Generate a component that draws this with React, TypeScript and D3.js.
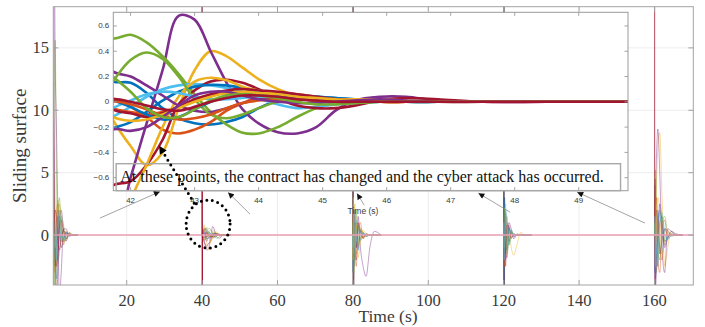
import React from "react";
import * as d3 from "d3";

const W = 705;
const H = 327;

// ---------- axes extents (data domains) ----------
const xDomain = [0.53, 170.3];
const yDomain = [-4.0, 18.3];
const xTicks = [20, 40, 60, 80, 100, 120, 140, 160];
const yTicks = [0, 5, 10, 15];

const insetXDomain = [41.73, 49.77];
const insetYDomain = [-0.703, 0.708];
const insetXTicks = [42, 43, 44, 45, 46, 47, 48, 49];
const insetYTicks = [-0.6, -0.4, -0.2, 0, 0.2, 0.4, 0.6];

const palette = ["#0072BD", "#D95319", "#EDB120", "#7E2F8E", "#77AC30", "#4DBEEE", "#A2142F"];

// ---------- event at t = 0.5 (start) ----------
const event0Start = 0.53;
const event0Offsets = [0, 0.1, 0.25, 0.5, 0.8, 1.2, 1.6, 2.1, 2.7, 3.4, 4.2, 5.2, 6.5];
const event0Colors = [0, 1, 2, 3, 4, 5, 6, 0, 1, 2, 3, 4, 5, 6];
const event0Values = [
  [9, 6, 2, -2, -3.5, -1, 1.5, 1, -0.5, -0.3, 0.2, 0, 0],
  [7, 4, 0, -3, -2, 1, 2, 0.5, -0.8, 0.2, 0.1, 0, 0],
  [16.2, 10, 3, -2, -4.5, -2, 2.5, 1.5, -0.5, -0.4, 0.2, 0.05, 0],
  [25, 22, 10, 0, -5, -3, 1, 2, 0.5, -0.5, 0.1, 0, 0],
  [5, 8, 12, 15.6, 6, -2, -1.5, 1.5, 0.8, -0.2, 0.1, 0, 0],
  [-1, -3, -5, -3, 0, 2, 1, -1, -0.6, 0.2, 0.1, 0, 0],
  [12.3, 8, 3, -1, -2.5, -1.5, 0.5, 1.2, 0.3, -0.3, 0, 0, 0],
  [2, 1, -1, -2.5, -1, 1.5, 1, -0.5, -0.3, 0.2, 0, 0, 0],
  [-2, -4, -3, -1, 1.5, 2.5, 0.5, -1, -0.2, 0.3, 0, 0, 0],
  [4, 2, 0, -1, 1, 2.8, 2, 0.5, -0.5, -0.2, 0.1, 0, 0],
  [20, 30, 25, 14, 9.1, 2, -5, -3, 0.5, 0.5, -0.1, 0, 0],
  [1, 0, -2, -4.5, -2, 1, 3, 1, -0.5, 0, 0.1, 0, 0],
  [6, 3, 0, -1.5, -2, 0.5, 1.8, 0.5, -0.4, 0.1, 0, 0, 0],
  [-3, -1, 1, 2, 1.5, -0.5, -1.2, -0.3, 0.4, 0.1, 0, 0, 0],
];

// ---------- later events (80, 120, 160) ----------
const eventOffsets = [0, 0.05, 0.12, 0.25, 0.5, 0.9, 1.4, 2.0, 2.7, 3.5, 4.5, 5.7, 7.5];

const event80Start = 80;
const event80Colors = [0, 1, 2, 3, 4, 5, 6, 0, 1, 2, 4, 5];
const event80Values = [
  [0, 40, -30, -2, 1.5, -1, 0.8, -0.4, 0.2, -0.1, 0, 0, 0],
  [0, 30, -25, -3, 2, 1, -1, 0.4, -0.2, 0.1, 0, 0, 0],
  [0, 5, -6, -1, 2.5, -1.5, -0.5, 0.6, 0.2, -0.1, 0, 0, 0],
  [0, 8, -4, -2, 1, -1, 1.5, -1, -2.5, -3.3, -1, 0.3, 0],
  [0, 4, -2, 1, -1.5, 2, -0.8, 0.5, -0.3, 0.1, 0, 0, 0],
  [0, 45, -35, 1, -2, 1.2, 0.5, -0.5, 0.2, 0, 0, 0, 0],
  [0, 35, -30, 2, -1, -2, 1, 0.3, -0.2, 0.1, 0, 0, 0],
  [0, -3, 2, -2.5, 1, 0.5, -1.2, 0.3, 0.2, -0.1, 0, 0, 0],
  [0, 2, -3, 1.5, -1, -2.5, 0.5, 1, -0.3, 0, 0, 0, 0],
  [0, -2, 3, 2, -1, 0.8, -1.8, -0.5, 0.4, 0.1, 0, 0, 0],
  [0, 1, -1, -3, -1.2, 1, 0.6, -0.2, 0, 0, 0, 0, 0],
  [0, -1, 2.5, -1.5, 2, -0.5, -0.4, 0.3, 0, 0, 0, 0, 0],
];

const event120Start = 120;
const event120Colors = [0, 1, 2, 3, 4, 5, 6, 0, 1, 4, 5];
const event120Values = [
  [0, 40, -30, 1, -1.5, 1, -0.6, 0.3, -0.1, 0, 0, 0, 0],
  [0, 3, -4, 2, -2, 0.5, 0.8, -0.3, 0.1, 0, 0, 0, 0],
  [0, -2, 2, -1, 1.5, -0.5, 0.5, -1, -1.6, -0.8, 0.2, 0, 0],
  [0, 10, -8, 3, -1.5, -1.8, 1, 0.5, -0.3, 0.1, 0, 0, 0],
  [0, 35, -30, -2, 1, 1.5, -0.8, 0.2, 0.1, 0, 0, 0, 0],
  [0, 40, -35, 2, 2.5, -1, -0.5, 0.4, 0, 0, 0, 0, 0],
  [0, 40, -30, -1, -2.5, 0.8, 0.6, -0.2, 0, 0, 0, 0, 0],
  [0, -4, 3, 1.5, -1, -1.2, 0.6, 0.2, -0.1, 0, 0, 0, 0],
  [0, 2, -2, -2.5, 1.8, 0.6, -0.5, 0.1, 0, 0, 0, 0, 0],
  [0, -1, 1, 2.2, 0.5, -1.5, -0.2, 0.4, 0, 0, 0, 0, 0],
  [0, 1, -2, -1, 2, 1, -0.8, -0.2, 0.1, 0, 0, 0, 0],
];

const event160Start = 160;
const event160Colors = [0, 1, 2, 3, 4, 5, 6, 0, 1, 2, 4, 3, 5];
const event160Values = [
  [0, 2, 4, 3, -1, -2.5, 1, 1.5, -0.5, -0.2, 0.1, 0, 0],
  [0, 1, 3, 4.5, 1, -2, -3, 0.5, 1.2, -0.3, 0, 0, 0],
  [0, 0, 1, 2, 4, 7, 8.2, 3, -2.5, -1, 0.3, 0, 0],
  [0, 1, 2, 3, 6, 8.5, 5, -1, -3, 0.5, 0.3, 0, 0],
  [0, 3, 5, 5.2, 3, -1, -2, 1, 1.5, 0.2, -0.1, 0, 0],
  [0, -2, -3, -1, 1.5, 2, -1, -1.5, 0.5, 0.3, 0, 0, 0],
  [0, 40, -30, -3, 2, 1, -1.5, -0.5, 0.5, 0, 0, 0, 0],
  [0, -1, -2, -3.5, -2, 1, 2, 0.5, -0.8, 0, 0, 0, 0],
  [0, 0.5, 1, 2, 3, 1, -1, -2, 0.5, 0.4, 0, 0, 0],
  [0, -1, -2, -2.5, 1, 3, 2, -1.5, -0.5, 0.3, 0, 0, 0],
  [0, 1, 0.5, -1, -3, -1, 1.8, 1.5, -0.5, -0.2, 0.1, 0, 0],
  [0, -2, -3, -4.5, -3, 0, 2.5, 1, -1, -0.3, 0.3, 0.1, 0],
  [0, 0.5, 1.5, 1, -1.5, -1, 0.8, 1.8, 0.3, -0.4, 0, 0, 0],
];

// ---------- event at 40 (shown in the inset) ----------
const spike40Times = [40, 40.02, 40.05, 40.08];
const spike40Values = [0, 40, -30, 0];

const insetTimes = [40, 40.6, 41.2, 41.72, 42.0, 42.25, 42.5, 42.75, 43.0, 43.25, 43.5, 43.75, 44.0, 44.3, 44.6, 44.9, 45.2, 45.5, 45.9, 46.3, 46.8, 47.5, 48.5, 50, 55];
const insetColors = [0, 1, 2, 3, 4, 5, 6, 0, 1, 2, 3, 4, 5, 6, 0, 1, 2, 3, 4, 6];
const insetValues = [
  [0, 0.5, 0.3, 0.16, 0.15, 0.07, -0.05, -0.13, -0.17, -0.18, -0.16, -0.12, -0.05, 0.01, 0.04, 0.04, 0.03, 0.02, 0.01, 0, 0, 0, 0, 0, 0],
  [0, -0.4, 0.2, 0.03, -0.04, -0.12, -0.22, -0.25, -0.22, -0.16, -0.07, -0.01, 0.04, 0.06, 0.06, 0.04, 0.02, 0.01, 0, 0, 0, 0, 0, 0, 0],
  [0, 0.6, 0.4, -0.14, -0.35, -0.5, -0.4, -0.05, 0.25, 0.4, 0.36, 0.27, 0.18, 0.1, 0.05, 0.03, 0.02, 0.01, 0, 0, 0, 0, 0, 0, 0],
  [0, -0.5, -1.2, -1.1, -0.6, -0.17, 0.25, 0.68, 0.65, 0.4, 0.15, -0.06, -0.17, -0.24, -0.25, -0.2, -0.07, 0.01, 0.04, 0.04, 0.01, 0, 0, 0, 0],
  [0, 0.3, 0.6, 0.5, 0.53, 0.47, 0.36, 0.22, 0.06, -0.08, -0.18, -0.245, -0.25, -0.2, -0.12, -0.05, -0.01, 0.01, 0.01, 0, 0, 0, 0, 0, 0],
  [0, -0.3, -0.3, -0.12, -0.04, 0.04, 0.1, 0.13, 0.14, 0.13, 0.11, 0.08, 0.03, -0.02, -0.05, -0.04, -0.02, -0.01, 0, 0, 0, 0, 0, 0, 0],
  [0, -0.6, -0.9, -0.66, -0.63, -0.5, -0.3, -0.02, 0.09, 0.16, 0.175, 0.15, 0.1, 0.03, -0.03, -0.05, -0.05, -0.03, 0.01, 0.03, 0.02, 0, 0, 0, 0],
  [0, 0.2, -0.3, -0.21, -0.16, -0.08, 0.01, 0.08, 0.12, 0.135, 0.13, 0.11, 0.08, 0.06, 0.05, 0.04, 0.03, 0.02, 0.01, 0, 0, 0, 0, 0, 0],
  [0, 0.3, 0.1, -0.05, -0.08, -0.1, -0.08, -0.04, 0.01, 0.05, 0.07, 0.07, 0.06, 0.05, 0.04, 0.03, 0.02, 0.01, 0, 0, 0, 0, 0, 0, 0],
  [0, 0.8, -0.6, -1.2, -0.78, -0.5, -0.2, 0.04, 0.16, 0.19, 0.17, 0.12, 0.09, 0.06, 0.04, 0.03, 0.02, 0.02, 0.02, 0.01, 0, 0, 0, 0, 0],
  [0, 0.4, 0.5, 0.24, 0.2, 0.13, 0.05, -0.03, -0.07, -0.08, -0.05, -0.01, 0.02, 0.03, 0.02, 0.01, 0, 0, 0, 0, 0, 0, 0, 0, 0],
  [0, -0.4, -0.2, 0.16, 0.33, 0.39, 0.34, 0.2, 0.02, -0.1, -0.13, -0.1, -0.05, 0, 0.02, 0.02, 0.01, 0, 0, 0, 0, 0, 0, 0, 0],
  [0, 0.1, -0.2, -0.05, 0.01, 0.06, 0.08, 0.07, 0.04, 0.02, 0.02, 0.03, 0.04, 0.04, 0.03, 0.02, 0.01, 0, 0, 0, 0, 0, 0, 0, 0],
  [0, -0.2, 0.2, -0.06, -0.09, -0.12, -0.09, -0.04, 0.02, 0.06, 0.09, 0.1, 0.09, 0.08, 0.06, 0.04, 0.02, 0.01, 0, 0, 0, 0, 0, 0, 0],
  [0, -0.2, 0.3, 0.02, -0.04, -0.1, -0.14, -0.12, -0.06, 0, 0.05, 0.07, 0.07, 0.05, 0.03, 0.01, 0, 0, 0, 0, 0, 0, 0, 0, 0],
  [0, 0.5, -0.2, 0, -0.02, -0.06, -0.11, -0.14, -0.13, -0.1, -0.05, -0.01, 0.01, 0.02, 0.02, 0.01, 0, 0, 0, 0, 0, 0, 0, 0, 0],
  [0, -0.3, 0.1, -0.12, -0.15, -0.14, -0.1, -0.05, 0, 0.04, 0.07, 0.08, 0.07, 0.06, 0.04, 0.03, 0.02, 0.01, 0, 0, 0, 0, 0, 0, 0],
  [0, 0.2, -0.5, -0.22, -0.23, -0.2, -0.12, -0.03, 0.05, 0.08, 0.08, 0.05, 0.02, 0, -0.01, -0.01, 0, 0.01, 0.02, 0.01, 0, 0, 0, 0, 0],
  [0, 0.5, 0.4, 0.2, 0.08, -0.05, -0.12, -0.12, -0.06, 0.01, 0.05, 0.06, 0.05, 0.03, 0, -0.02, -0.02, -0.01, 0, 0, 0, 0, 0, 0, 0],
  [0, 0.1, -0.1, 0.02, 0, -0.03, -0.06, -0.07, -0.04, 0, 0.03, 0.05, 0.05, 0.04, 0.02, 0.01, 0, 0, 0, 0, 0, 0, 0, 0, 0],
];
// number of inset samples also drawn on the main axes (up to t = 47.5)
const mainInsetSamples = 22;

// ---------- annotation anchors (data units of the main axes) ----------
const noteText = "At these points, the contract has changed and the cyber attack has occurred.";
const noteBox = { t0: 17.2, t1: 151.0, v0: 3.56, v1: 5.72 };
const noteTextAt = { t: 18.3, v: 4.22 };
// [tail t, tail v, head t, head v]
const noteArrows = [
  [12.9, 1.36, 28.8, 3.48],
  [52.7, 1.68, 46.9, 3.42],
  [83.0, 2.4, 81.1, 3.34],
  [121.7, 1.84, 113.3, 3.36],
  [157.5, 0.96, 139.5, 3.44],
];
const circleAt = { t: 41.6, v: 0.88 };
const dottedArrow = [37.9, 2.56, 28.6, 7.15];

const serif = "'Liberation Serif', 'Times New Roman', Times, serif";
const sans = "'Liberation Sans', Helvetica, Arial, sans-serif";

export default function App() {
  const plot = { left: 53.3, top: 6.7, right: 693.3, bottom: 285 };
  const inset = { left: 113.3, top: 12.3, right: 628, bottom: 190.7 };

  const x = d3.scaleLinear().domain(xDomain).range([plot.left, plot.right]);
  const y = d3.scaleLinear().domain(yDomain).range([plot.bottom, plot.top]);
  const xi = d3.scaleLinear().domain(insetXDomain).range([inset.left, inset.right]);
  const yi = d3.scaleLinear().domain(insetYDomain).range([inset.bottom, inset.top]);

  const mainLine = d3
    .line<[number, number]>()
    .x((d) => x(d[0]))
    .y((d) => y(d[1]))
    .curve(d3.curveMonotoneX);
  const mainLinear = d3
    .line<[number, number]>()
    .x((d) => x(d[0]))
    .y((d) => y(d[1]));
  const insetLine = d3
    .line<[number, number]>()
    .x((d) => xi(d[0]))
    .y((d) => yi(d[1]))
    .curve(d3.curveCatmullRom.alpha(0.5));

  type S = { pts: [number, number][]; color: string };
  const mainSeries: S[] = [];
  const addEvent = (start: number, offs: number[], vals: number[][], cols: number[]) => {
    vals.forEach((row, i) => {
      mainSeries.push({
        pts: row.map((v, j) => [start + offs[j], v] as [number, number]),
        color: palette[cols[i]],
      });
    });
  };
  addEvent(event0Start, event0Offsets, event0Values, event0Colors);
  insetValues.forEach((row, i) =>
    mainSeries.push({
      pts: row.slice(0, mainInsetSamples).map((v, j) => [insetTimes[j], v] as [number, number]),
      color: palette[insetColors[i]],
    })
  );
  addEvent(event80Start, eventOffsets, event80Values, event80Colors);
  addEvent(event120Start, eventOffsets, event120Values, event120Colors);
  addEvent(event160Start, eventOffsets, event160Values, event160Colors);

  const spike40 = spike40Times.map((t, i) => [t, spike40Values[i]] as [number, number]);
  const zeroLine: [number, number][] = [
    [xDomain[0], 0],
    [xDomain[1], 0],
  ];

  const axisColor = "#a3a3a3";
  const labelColor = "#3a3a3a";

  return (
    <svg width={W} height={H} style={{ position: "absolute", left: 0, top: 0, background: "#fff" }}>
      <defs>
        <clipPath id="mainClip">
          <rect x={plot.left} y={plot.top} width={plot.right - plot.left} height={plot.bottom - plot.top} />
        </clipPath>
        <clipPath id="insetClip">
          <rect x={inset.left} y={inset.top} width={inset.right - inset.left} height={inset.bottom - inset.top} />
        </clipPath>
        <marker id="ah" viewBox="0 0 10 10" refX="10" refY="5" markerUnits="userSpaceOnUse" markerWidth="7" markerHeight="6" orient="auto">
          <path d="M0,0 L10,5 L0,10 z" fill="#111" />
        </marker>
        <marker id="ahBig" viewBox="0 0 10 10" refX="10" refY="5" markerUnits="userSpaceOnUse" markerWidth="9" markerHeight="8" orient="auto">
          <path d="M0,0 L10,5 L0,10 z" fill="#000" />
        </marker>
      </defs>
      <rect x={0} y={0} width={W} height={H} fill="#fff" />

      {/* main grid */}
      <g stroke="#e9e9e9" strokeWidth={0.8}>
        {xTicks.map((t) => (
          <line key={"gx" + t} x1={x(t)} x2={x(t)} y1={plot.top} y2={plot.bottom} />
        ))}
        {yTicks.map((t) => (
          <line key={"gy" + t} x1={plot.left} x2={plot.right} y1={y(t)} y2={y(t)} />
        ))}
      </g>

      {/* main series */}
      <g clipPath="url(#mainClip)" fill="none">
        {mainSeries.map((s, i) => (
          <path key={"m" + i} d={mainLine(s.pts) || ""} stroke={s.color} strokeWidth={0.75} strokeOpacity={0.6} />
        ))}
        <path d={mainLinear(spike40) || ""} stroke={palette[6]} strokeWidth={1} />
        <path d={mainLinear(zeroLine) || ""} stroke="#eb9fb3" strokeWidth={1.5} />
      </g>

      {/* main axes box and ticks */}
      <rect x={plot.left} y={plot.top} width={plot.right - plot.left} height={plot.bottom - plot.top} fill="none" stroke={axisColor} strokeWidth={1} />
      <g stroke={axisColor} strokeWidth={1}>
        {xTicks.map((t) => (
          <g key={"tx" + t}>
            <line x1={x(t)} x2={x(t)} y1={plot.bottom} y2={plot.bottom - 5} />
            <line x1={x(t)} x2={x(t)} y1={plot.top} y2={plot.top + 5} />
          </g>
        ))}
        {yTicks.map((t) => (
          <g key={"ty" + t}>
            <line x1={plot.left} x2={plot.left + 5} y1={y(t)} y2={y(t)} />
            <line x1={plot.right} x2={plot.right - 5} y1={y(t)} y2={y(t)} />
          </g>
        ))}
      </g>
      <g fontFamily={serif} fontSize={16.5} fill={labelColor}>
        {xTicks.map((t) => (
          <text key={"lx" + t} x={x(t)} y={306} textAnchor="middle">
            {t}
          </text>
        ))}
        {yTicks.map((t) => (
          <text key={"ly" + t} x={49} y={y(t)} textAnchor="end" dominantBaseline="central">
            {t}
          </text>
        ))}
      </g>
      <text x={388} y={322} textAnchor="middle" fontFamily={serif} fontSize={17.5} fill={labelColor}>
        Time (s)
      </text>
      <text
        transform={`translate(26, ${(plot.top + plot.bottom) / 2}) rotate(-90)`}
        textAnchor="middle"
        fontFamily={serif}
        fontSize={19}
        fill={labelColor}
      >
        Sliding surface
      </text>

      {/* inset */}
      <rect x={inset.left} y={inset.top} width={inset.right - inset.left} height={inset.bottom - inset.top} fill="#fff" />
      <g clipPath="url(#insetClip)" fill="none">
        {insetValues.map((row, i) => (
          <path
            key={"i" + i}
            d={insetLine(row.map((v, j) => [insetTimes[j], v] as [number, number])) || ""}
            stroke={palette[insetColors[i]]}
            strokeWidth={2.6}
            strokeLinejoin="round"
          />
        ))}
      </g>
      <rect x={inset.left} y={inset.top} width={inset.right - inset.left} height={inset.bottom - inset.top} fill="none" stroke="#9a9a9a" strokeWidth={1} />
      <g stroke="#9a9a9a" strokeWidth={0.9}>
        {insetXTicks.map((t) => (
          <g key={"itx" + t}>
            <line x1={xi(t)} x2={xi(t)} y1={inset.bottom} y2={inset.bottom - 3.5} />
            <line x1={xi(t)} x2={xi(t)} y1={inset.top} y2={inset.top + 3.5} />
          </g>
        ))}
        {insetYTicks.map((t) => (
          <g key={"ity" + t}>
            <line x1={inset.left} x2={inset.left + 3.5} y1={yi(t)} y2={yi(t)} />
            <line x1={inset.right} x2={inset.right - 3.5} y1={yi(t)} y2={yi(t)} />
          </g>
        ))}
      </g>
      <g fontFamily={sans} fontSize={8} fill={labelColor}>
        {insetXTicks.map((t) => (
          <text key={"ilx" + t} x={xi(t)} y={202.5} textAnchor="middle">
            {t}
          </text>
        ))}
        {insetYTicks.map((t) => (
          <text key={"ily" + t} x={inset.left - 4} y={yi(t)} textAnchor="end" dominantBaseline="central">
            {t === 0 ? "0" : d3.format(".1f")(t)}
          </text>
        ))}
      </g>
      <text x={xi(45.63)} y={214} textAnchor="middle" fontFamily={sans} fontSize={8.5} fill={labelColor}>
        Time (s)
      </text>

      {/* annotation */}
      <rect
        x={x(noteBox.t0)}
        y={y(noteBox.v1)}
        width={x(noteBox.t1) - x(noteBox.t0)}
        height={y(noteBox.v0) - y(noteBox.v1)}
        fill="none"
        stroke="#a8a8a8"
        strokeWidth={1.4}
      />
      <text x={x(noteTextAt.t)} y={y(noteTextAt.v)} fontFamily={serif} fontSize={16} fill="#111">
        {noteText}
      </text>
      <g stroke="#8c8c8c" strokeWidth={0.8}>
        {noteArrows.map((a, i) => (
          <line key={"ar" + i} x1={x(a[0])} y1={y(a[1])} x2={x(a[2])} y2={y(a[3])} markerEnd="url(#ah)" />
        ))}
      </g>
      <ellipse
        cx={x(circleAt.t)}
        cy={y(circleAt.v)}
        rx={22}
        ry={24}
        fill="none"
        stroke="#000"
        strokeWidth={3}
        strokeDasharray="0 5.6"
        strokeLinecap="round"
      />
      <line
        x1={x(dottedArrow[0])}
        y1={y(dottedArrow[1])}
        x2={x(dottedArrow[2])}
        y2={y(dottedArrow[3])}
        stroke="#000"
        strokeWidth={3}
        strokeDasharray="0 5.6"
        strokeLinecap="round"
        markerEnd="url(#ahBig)"
      />
    </svg>
  );
}
